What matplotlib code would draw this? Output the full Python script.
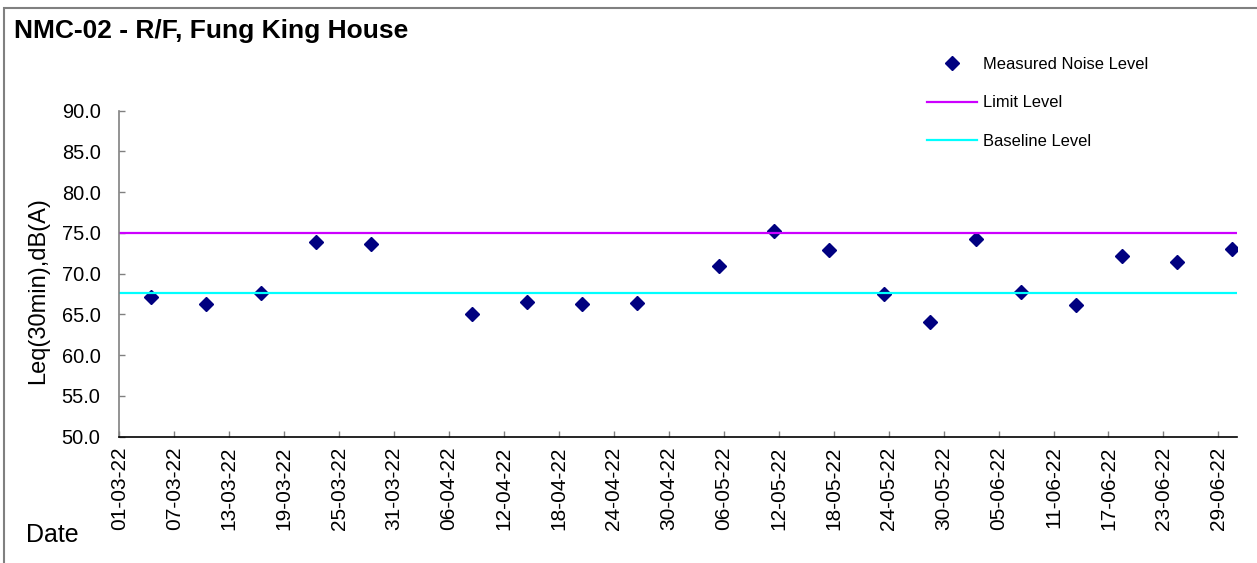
import numpy as np
import pandas as pd
import matplotlib
matplotlib.use('Agg')
import matplotlib.pyplot as plt
import matplotlib.dates as mdates
from matplotlib.patches import Rectangle

plt.rcParams['font.family'] = ['Liberation Sans', 'DejaVu Sans']

# Measured Leq(30min) values
dates = ['2022-03-04', '2022-03-10', '2022-03-16', '2022-03-22', '2022-03-28',
         '2022-04-08', '2022-04-14', '2022-04-20', '2022-04-26', '2022-05-05',
         '2022-05-11', '2022-05-17', '2022-05-23', '2022-05-28', '2022-06-02',
         '2022-06-07', '2022-06-13', '2022-06-18', '2022-06-24', '2022-06-30']
leq = [67.1, 66.3, 67.6, 73.9, 73.6,
       65.1, 66.5, 66.3, 66.4, 70.9,
       75.3, 72.9, 67.5, 64.1, 74.2,
       67.8, 66.1, 72.2, 71.4, 73.0]

limit_level = 75.0
baseline_level = 67.6

tick_dates = ['2022-03-01', '2022-03-07', '2022-03-13', '2022-03-19', '2022-03-25',
              '2022-03-31', '2022-04-06', '2022-04-12', '2022-04-18', '2022-04-24',
              '2022-04-30', '2022-05-06', '2022-05-12', '2022-05-18', '2022-05-24',
              '2022-05-30', '2022-06-05', '2022-06-11', '2022-06-17', '2022-06-23',
              '2022-06-29']
y_ticks = [50, 55, 60, 65, 70, 75, 80, 85, 90]

W, H = 1257, 563
fig = plt.figure(figsize=(W / 100, H / 100), dpi=100)
ax = fig.add_axes([119.3 / W, 1 - 436.7 / H, 1117.4 / W, 326 / H])

# points sit in the middle of their day (Excel date axis style)
x = pd.to_datetime(dates) + pd.Timedelta(hours=12)
ax.plot(x, leq, linestyle='none', marker='D', markersize=7.4,
        color='#000080', label='Measured Noise Level')
ax.axhline(limit_level, color='#CC00FF', lw=1.6, label='Limit Level')
ax.axhline(baseline_level, color='#00FFFF', lw=1.6, label='Baseline Level')

ax.set_xlim(pd.Timestamp('2022-03-01'), pd.Timestamp('2022-07-01'))
ax.set_ylim(50, 90)

ticks = pd.to_datetime(tick_dates)
ax.set_xticks(ticks)
ax.set_xticklabels([t.strftime('%d-%m-%y') for t in ticks], rotation=90, fontsize=15)
ax.set_yticks(y_ticks)
ax.set_yticklabels(['%.1f' % v for v in y_ticks], fontsize=14.4)

ax.tick_params(axis='both', direction='in', length=4, width=1, color='#808080')
ax.tick_params(axis='x', pad=7)
ax.tick_params(axis='y', pad=13.5)

for s in ['top', 'right']:
    ax.spines[s].set_visible(False)
ax.spines['left'].set_color('#808080')
ax.spines['left'].set_linewidth(1.2)
ax.spines['bottom'].set_color('black')
ax.spines['bottom'].set_linewidth(1.2)

ax.legend(loc='upper left', bbox_to_anchor=(927 / W, 1 - 57 / H),
          bbox_transform=fig.transFigure, frameon=False, fontsize=11.9,
          handlelength=3.05, handletextpad=0.35, borderpad=0, borderaxespad=0,
          labelspacing=1.42)

fig.text(14 / W, 1 - 31 / H, 'NMC-02 - R/F, Fung King House', fontsize=19,
         fontweight='bold', va='center', ha='left')
fig.text(38 / W, 1 - 291 / H, 'Leq(30min),dB(A)', fontsize=17, rotation=90,
         va='center', ha='center')
fig.text(26 / W, 1 - 535 / H, 'Date', fontsize=18, va='center', ha='left')

# outer chart border (cut off at right and bottom)
fig.patches.append(Rectangle((4 / W, -0.2), 1.5, 1.2 - 8 / H, transform=fig.transFigure,
                             fill=False, edgecolor='#808080', lw=1.5))

fig.savefig('out.png', dpi=100)
